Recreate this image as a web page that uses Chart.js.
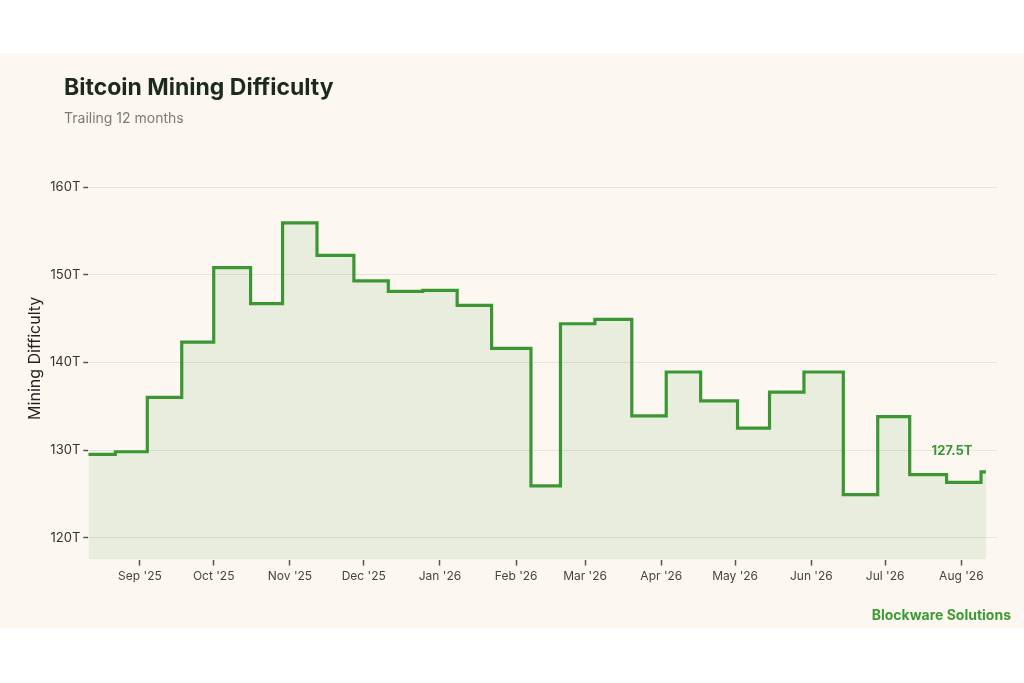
<!DOCTYPE html>
<html>
<head>
<meta charset="utf-8">
<script src="https://cdn.jsdelivr.net/npm/chart.js@4.4.1/dist/chart.umd.min.js"></script>
<style>
  html, body { margin: 0; padding: 0; background: #ffffff; }
  body { width: 1024px; height: 683px; position: relative; overflow: hidden; font-family: Inter, "Open Sans", sans-serif; }
  #card { position: absolute; left: 0; top: 53px; width: 1024px; height: 575px; background: #fcf8f1; }
  #title { position: absolute; left: 64px; top: 20px; font-weight: 700; font-size: 23px; line-height: 28px; color: #1b2a1d; white-space: nowrap; }
  #subtitle { position: absolute; left: 64px; top: 56px; font-size: 14px; line-height: 17px; color: #7b7b74; white-space: nowrap; }
  #chartBox { position: absolute; left: 0; top: 0; width: 1024px; height: 575px; }
  #source { position: absolute; right: 13px; top: 553px; font-weight: 700; font-size: 14px; line-height: 18px; color: #3d9a35; white-space: nowrap; }
</style>
</head>
<body>
<div id="card">
  <div id="chartBox"><canvas id="chart"></canvas></div>
  <div id="title">Bitcoin Mining Difficulty</div>
  <div id="subtitle">Trailing 12 months</div>
  <div id="source">Blockware Solutions</div>
</div>
<script>
// ---- Data ----
const startDate = '2025-08-11';
const endDate = '2026-08-11';
const adjustmentDates = [
  '2025-08-11', '2025-08-22', '2025-09-04', '2025-09-18', '2025-10-01', '2025-10-16',
  '2025-10-29', '2025-11-12', '2025-11-27', '2025-12-11', '2025-12-25', '2026-01-08',
  '2026-01-22', '2026-02-07', '2026-02-19', '2026-03-05', '2026-03-20', '2026-04-03',
  '2026-04-17', '2026-05-02', '2026-05-15', '2026-05-29', '2026-06-14', '2026-06-28',
  '2026-07-11', '2026-07-26', '2026-08-09'
];
const difficultyT = [
  129.5, 129.8, 136.0, 142.3, 150.8, 146.7,
  155.9, 152.2, 149.3, 148.1, 148.2, 146.5,
  141.6, 125.9, 144.4, 144.9, 133.9, 138.9,
  135.6, 132.5, 136.6, 138.9, 124.9, 133.8,
  127.2, 126.3, 127.5
];
const monthTickDates = [
  '2025-09-01', '2025-10-01', '2025-11-01', '2025-12-01', '2026-01-01', '2026-02-01',
  '2026-03-01', '2026-04-01', '2026-05-01', '2026-06-01', '2026-07-01', '2026-08-01'
];
const monthTickLabels = [
  "Sep '25", "Oct '25", "Nov '25", "Dec '25", "Jan '26", "Feb '26",
  "Mar '26", "Apr '26", "May '26", "Jun '26", "Jul '26", "Aug '26"
];
const yTickValues = [120, 130, 140, 150, 160];
const yAxisTitle = 'Mining Difficulty';
const latestLabel = '127.5T';

// ---- Helpers ----
const DAY = 86400000;
function dayIndex(s) {
  const p = s.split('-').map(Number);
  const q = startDate.split('-').map(Number);
  return Math.round((Date.UTC(p[0], p[1] - 1, p[2]) - Date.UTC(q[0], q[1] - 1, q[2])) / DAY);
}
const points = adjustmentDates.map((d, i) => ({ x: dayIndex(d), y: difficultyT[i] }));
points.push({ x: dayIndex(endDate), y: difficultyT[difficultyT.length - 1] });
const monthTickDays = monthTickDates.map(dayIndex);

const FONT = 'Inter, "Open Sans", sans-serif';
const LINE = '#3b9633';

const annotationsPlugin = {
  id: 'annotations',
  afterDatasetsDraw(chart) {
    const xs = chart.scales.x, ys = chart.scales.y;
    const last = adjustmentDates.length - 1;
    const px = xs.getPixelForValue(dayIndex(adjustmentDates[last])) - 29;
    const py = ys.getPixelForValue(difficultyT[last]) - 21;
    const ctx = chart.ctx;
    ctx.save();
    ctx.font = '700 13px ' + FONT;
    ctx.fillStyle = LINE;
    ctx.textAlign = 'center';
    ctx.textBaseline = 'middle';
    ctx.fillText(latestLabel, px, py);
    ctx.restore();

    // y-axis title, centred slightly above the plot centre as in the reference
    ctx.save();
    ctx.translate(35, (chart.chartArea.top + chart.chartArea.bottom) / 2 - 15);
    ctx.rotate(-Math.PI / 2);
    ctx.font = '16px ' + FONT;
    ctx.fillStyle = '#222222';
    ctx.textAlign = 'center';
    ctx.textBaseline = 'middle';
    ctx.fillText(yAxisTitle, 0, 0);
    ctx.restore();
  }
};

new Chart(document.getElementById('chart'), {
  type: 'line',
  data: {
    datasets: [{
      data: points,
      stepped: true,
      borderColor: LINE,
      borderWidth: 3.2,
      backgroundColor: 'rgba(59,150,51,0.10)',
      fill: 'start',
      pointRadius: 0,
      borderJoinStyle: 'miter',
      tension: 0
    }]
  },
  options: {
    responsive: true,
    maintainAspectRatio: false,
    animation: false,
    layout: { padding: { left: 47, right: 27, top: 134, bottom: 40 } },
    plugins: {
      legend: { display: false },
      tooltip: { enabled: false }
    },
    scales: {
      x: {
        type: 'linear',
        min: 0,
        max: 369.5,
        afterBuildTicks(scale) { scale.ticks = monthTickDays.map(v => ({ value: v })); },
        ticks: {
          autoSkip: false,
          maxRotation: 0,
          padding: 4,
          color: '#444444',
          font: { family: FONT, size: 12 },
          callback(v) { const i = monthTickDays.indexOf(v); return i >= 0 ? monthTickLabels[i] : ''; }
        },
        grid: { drawOnChartArea: false, drawTicks: true, tickLength: 6, tickColor: '#555555', tickWidth: 1.5 },
        border: { display: false }
      },
      y: {
        type: 'linear',
        min: 117.5,
        max: 160,
        afterBuildTicks(scale) { scale.ticks = yTickValues.map(v => ({ value: v })); },
        ticks: {
          padding: 3,
          color: '#333333',
          font: { family: FONT, size: 13 },
          callback(v) { return v + 'T'; }
        },
        grid: { color: '#e3e6da', lineWidth: 1, drawTicks: true, tickLength: 5, tickColor: '#555555', tickWidth: 1.5 },
        border: { display: false }
      }
    }
  },
  plugins: [annotationsPlugin]
});
</script>
</body>
</html>
